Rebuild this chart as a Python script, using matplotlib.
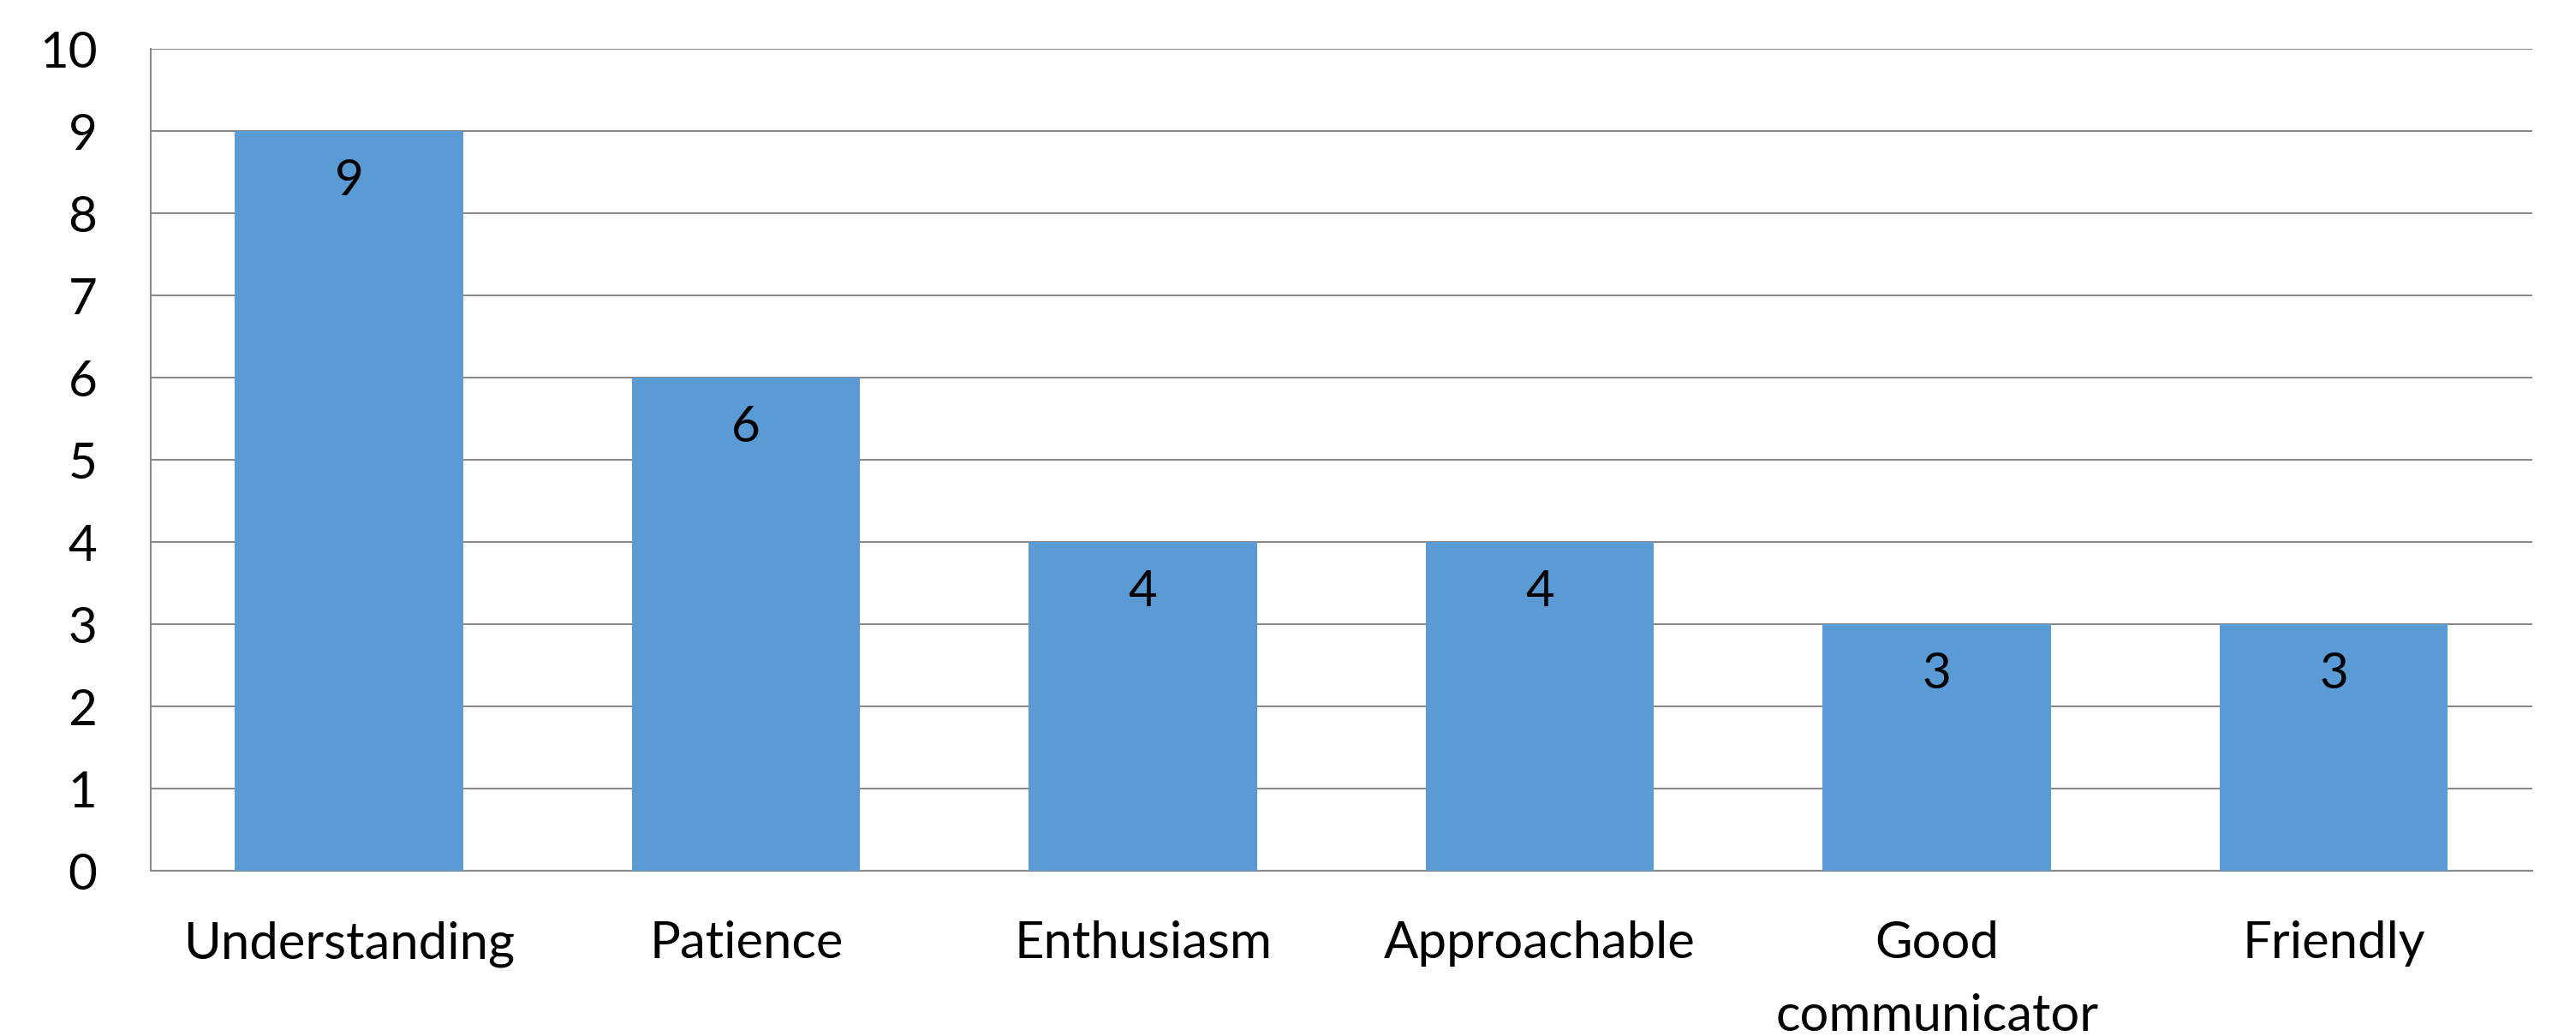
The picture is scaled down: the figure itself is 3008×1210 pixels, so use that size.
import numpy as np
import matplotlib.pyplot as plt

categories = ['Understanding', 'Patience', 'Enthusiasm', 'Approachable', 'Good\ncommunicator', 'Friendly']
counts = [9, 6, 4, 4, 3, 3]
yticks = list(range(0, 11))

plt.rcParams['font.family'] = ['Lato', 'DejaVu Sans']

fig = plt.figure(figsize=(30.08, 12.10), dpi=100)
ax = fig.add_axes([0.0585, 0.1595, 0.9245, 0.793])

x = np.arange(len(categories))
ax.bar(x, counts, width=0.575, color='#5B9BD5', zorder=3)
for xi, v in zip(x, counts):
    ax.annotate(str(v), (xi, v), xytext=(0, -42), textcoords='offset points',
                ha='center', va='center', fontsize=42, color='black', zorder=4)

ax.set_xlim(-0.5, len(categories) - 0.5)
ax.set_ylim(0, 10)
ax.set_yticks(yticks)
ax.set_xticks(x)
ax.set_xticklabels(categories, linespacing=1.7)
ax.tick_params(axis='y', length=0, pad=45, labelsize=42)
ax.tick_params(axis='x', length=0, pad=42, labelsize=43)
ax.grid(axis='y', color='#898989', linewidth=1.5, zorder=0)
for s in ['top', 'right']:
    ax.spines[s].set_visible(False)
for s in ['left', 'bottom']:
    ax.spines[s].set_color('#898989')
    ax.spines[s].set_linewidth(1.5)

fig.savefig('out.png', dpi=100)
